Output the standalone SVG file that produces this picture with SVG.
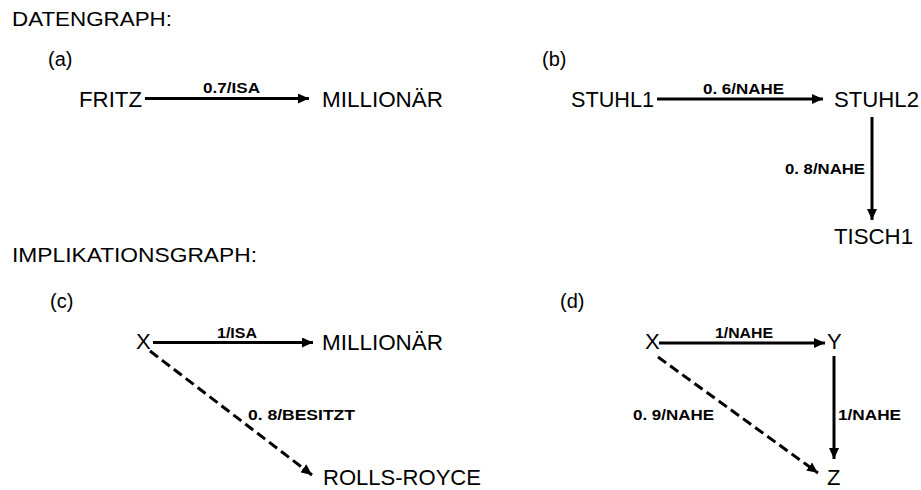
<svg xmlns="http://www.w3.org/2000/svg" width="921" height="490" viewBox="0 0 921 490">
<style>
.t{font-family:"Liberation Sans",Arial,sans-serif;font-size:20px;fill:#000}
.n{font-family:"Liberation Sans",Arial,sans-serif;font-size:22px;fill:#000}
.l{font-family:"Liberation Sans",Arial,sans-serif;font-size:14.5px;font-weight:bold;fill:#000}
.e{stroke:#000;stroke-width:3;fill:none}
.d{stroke:#000;stroke-width:3;fill:none;stroke-dasharray:10 5}
</style>
<defs>
<marker id="ah" markerUnits="userSpaceOnUse" markerWidth="12" markerHeight="10" refX="11" refY="5" orient="auto">
<path d="M0,0 L11,5 L0,10 Z" fill="#000"/>
</marker>
</defs>
<rect width="921" height="490" fill="#fff"/>
<text class="t" x="12" y="26" textLength="160" lengthAdjust="spacingAndGlyphs">DATENGRAPH:</text>
<text class="t" x="12" y="262" textLength="245" lengthAdjust="spacingAndGlyphs">IMPLIKATIONSGRAPH:</text>
<text class="t" x="48" y="66">(a)</text>
<text class="t" x="542" y="66">(b)</text>
<text class="t" x="50" y="308">(c)</text>
<text class="t" x="560" y="308">(d)</text>
<g id="fritz"><text class="n" x="79" y="107" textLength="63" lengthAdjust="spacingAndGlyphs">FRITZ</text></g>
<g id="millionaer1"><text class="n" x="322" y="107" textLength="121" lengthAdjust="spacingAndGlyphs">MILLIONÄR</text></g>
<g id="stuhl1"><text class="n" x="571" y="107" textLength="83" lengthAdjust="spacingAndGlyphs">STUHL1</text></g>
<g id="stuhl2"><text class="n" x="834" y="107" textLength="85" lengthAdjust="spacingAndGlyphs">STUHL2</text></g>
<g id="tisch1"><text class="n" x="834" y="244" textLength="79" lengthAdjust="spacingAndGlyphs">TISCH1</text></g>
<g id="x1"><text class="n" x="136" y="349">X</text></g>
<g id="millionaer2"><text class="n" x="322" y="350" textLength="121" lengthAdjust="spacingAndGlyphs">MILLIONÄR</text></g>
<g id="rollsroyce"><text class="n" x="323" y="485" textLength="158" lengthAdjust="spacingAndGlyphs">ROLLS-ROYCE</text></g>
<g id="x2"><text class="n" x="645" y="349">X</text></g>
<g id="y"><text class="n" x="827" y="349">Y</text></g>
<g id="z"><text class="n" x="827" y="485">Z</text></g>
<g id="connectors">
<line class="e" x1="145" y1="98.5" x2="309" y2="98.5" marker-end="url(#ah)"/>
<text class="l" x="203" y="93" textLength="57" lengthAdjust="spacingAndGlyphs">0.7/ISA</text>
<line class="e" x1="657" y1="99" x2="823" y2="99" marker-end="url(#ah)"/>
<text class="l" x="703" y="94" textLength="81" lengthAdjust="spacingAndGlyphs">0. 6/NAHE</text>
<line class="e" x1="872" y1="117" x2="872" y2="220" marker-end="url(#ah)"/>
<text class="l" x="785" y="174" textLength="80" lengthAdjust="spacingAndGlyphs">0. 8/NAHE</text>
<line class="e" x1="153" y1="342.5" x2="313" y2="342.5" marker-end="url(#ah)"/>
<text class="l" x="217" y="338" textLength="40" lengthAdjust="spacingAndGlyphs">1/ISA</text>
<line class="d" x1="150" y1="351" x2="312" y2="475" marker-end="url(#ah)"/>
<text class="l" x="248" y="420" textLength="107" lengthAdjust="spacingAndGlyphs">0. 8/BESITZT</text>
<line class="e" x1="659" y1="343" x2="825" y2="343" marker-end="url(#ah)"/>
<text class="l" x="715" y="338" textLength="58" lengthAdjust="spacingAndGlyphs">1/NAHE</text>
<line class="e" x1="834" y1="356" x2="834" y2="459" marker-end="url(#ah)"/>
<text class="l" x="838" y="420" textLength="63" lengthAdjust="spacingAndGlyphs">1/NAHE</text>
<line class="d" x1="658" y1="357" x2="818" y2="473" marker-end="url(#ah)"/>
<text class="l" x="633" y="420" textLength="81" lengthAdjust="spacingAndGlyphs">0. 9/NAHE</text>
</g>
</svg>
